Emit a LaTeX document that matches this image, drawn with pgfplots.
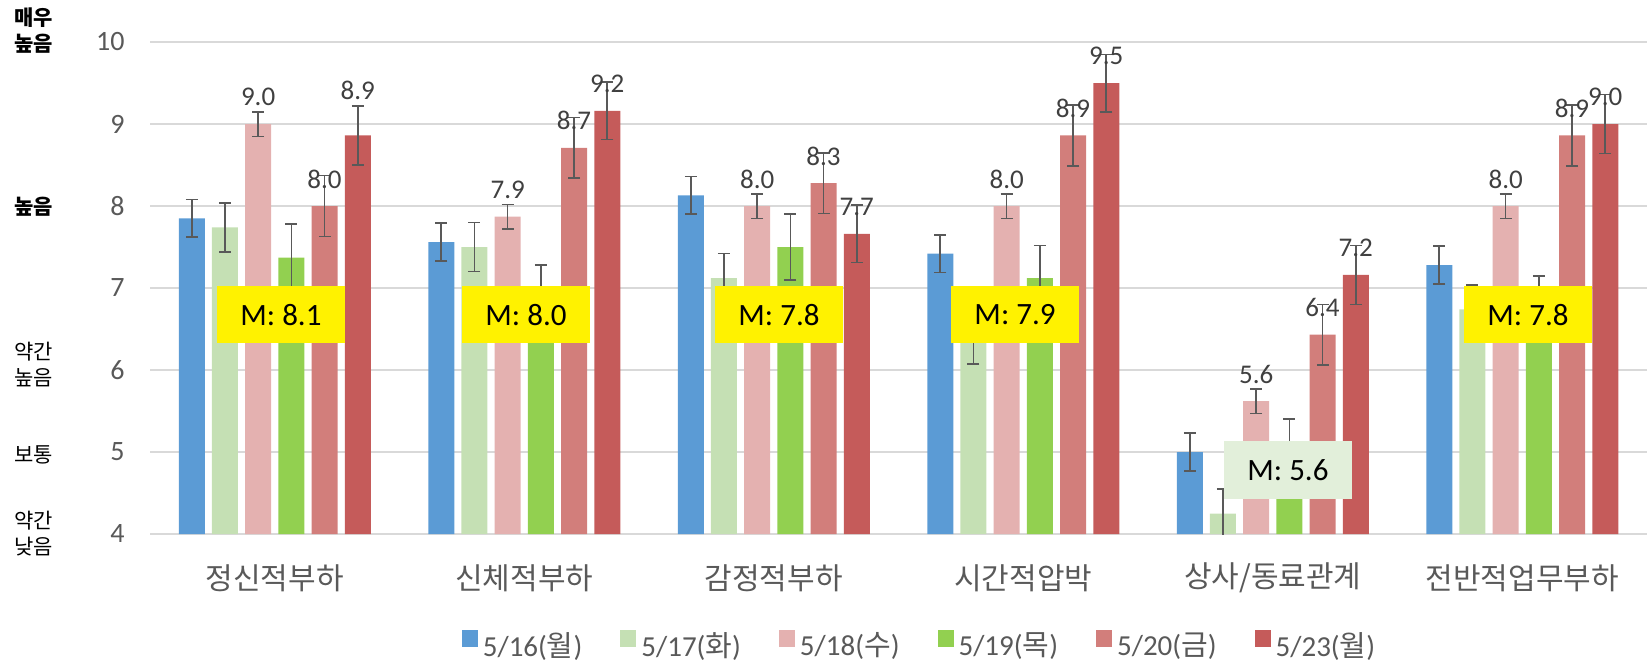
\documentclass[border=0pt]{standalone}
\usepackage{fontspec}
\setmainfont{Carlito}
\newfontfamily\kr{Noto Sans CJK KR}
\usepackage{pgfplots}
\pgfplotsset{compat=1.18}
\usepackage{pgfplotstable}
\definecolor{cA}{HTML}{5B9BD5}
\definecolor{cB}{HTML}{C5E0B4}
\definecolor{cC}{HTML}{E4B1B0}
\definecolor{cD}{HTML}{92D050}
\definecolor{cE}{HTML}{D27E7B}
\definecolor{cF}{HTML}{C55B5A}
\definecolor{tickgray}{HTML}{595959}
\definecolor{labgray}{HTML}{404040}
\definecolor{errgray}{HTML}{595959}
\definecolor{gridgray}{HTML}{D9D9D9}
\definecolor{boxgreen}{HTML}{E2EFDA}

\pgfplotstableread{
x y e
0 7.85 0.23
1 7.56 0.23
2 8.13 0.23
3 7.42 0.23
4 5.00 0.23
5 7.28 0.23
}\tblA
\pgfplotstableread{
x y e
0 7.74 0.30
1 7.50 0.30
2 7.12 0.30
3 6.37 0.30
4 4.25 0.30
5 6.74 0.30
}\tblB
\pgfplotstableread{
x y e
0 9.00 0.15
1 7.87 0.15
2 8.00 0.15
3 8.00 0.15
4 5.62 0.15
5 8.00 0.15
}\tblC
\pgfplotstableread{
x y e
0 7.37 0.41
1 6.95 0.33
2 7.50 0.40
3 7.12 0.40
4 5.00 0.40
5 6.75 0.40
}\tblD
\pgfplotstableread{
x y e
0 8.00 0.37
1 8.71 0.37
2 8.28 0.37
3 8.86 0.37
4 6.43 0.37
5 8.86 0.37
}\tblE
\pgfplotstableread{
x y e off
0 8.86 0.36 22.5
1 9.16 0.35 13.5
2 7.66 0.35 13.5
3 9.50 0.35 13.5
4 7.16 0.36 13.5
5 9.00 0.36 13.5
}\tblF

\pgfplotsset{
  lab/.style={
    nodes near coords={\pgfmathprintnumber[fixed,fixed zerofill,precision=1]{\pgfplotspointmeta}},
    every node near coord/.append style={anchor=center, yshift=13.5pt, inner sep=0pt,
      font=\fontsize{13.5}{13.5}\selectfont, text=labgray},
  },
}

\begin{document}
\begin{tikzpicture}
\useasboundingbox (0,0) rectangle (824pt,332pt);
\begin{axis}[
  at={(75pt,65pt)}, anchor=south west,
  scale only axis, width=748.5pt, height=246pt,
  ymin=4, ymax=10, xmin=-0.5, xmax=5.5,
  ybar=3.6pt, bar width=13pt,
  ytick={4,...,10}, xtick={0,...,5},
  xticklabels={정신적부하,신체적부하,감정적부하,시간적압박,상사/동료관계,전반적업무부하},
  major tick length=0pt,
  axis line style={draw=none},
  ymajorgrids, grid style={color=gridgray, line width=0.75pt},
  /pgf/number format/assume math mode=true,
  yticklabel style={anchor=east, inner sep=0pt, xshift=-12.5pt,
    font=\fontsize{14}{14}\selectfont, text=tickgray},
  xticklabel style={anchor=center, inner sep=0pt, yshift=-22pt,
    font=\kr\fontsize{15}{15}\selectfont, text=tickgray},
  error bars/y dir=both, error bars/y explicit,
  error bars/error bar style={color=errgray, line width=0.8pt},
  error bars/error mark options={color=errgray, line width=0.8pt, mark size=3pt, rotate=90},
  legend columns=6,
  legend style={draw=none, fill=none, at={(axis description cs:0.5134,-0.2245)}, anchor=center,
    font=\fontsize{14.5}{16}\selectfont, text=tickgray, inner sep=0pt,
    nodes={inner sep=0pt},
    /tikz/every odd column/.append style={column sep=2.5pt},
    /tikz/every even column/.append style={column sep=19pt}},
  legend image code/.code={\fill[#1] (0pt,-0.5pt) rectangle (8pt,8pt);},
]
\addplot[fill=cA, draw=none] table[x=x, y=y, y error=e]{\tblA};
\addlegendentry{5/16({\kr 월})}
\addplot[fill=cB, draw=none] table[x=x, y=y, y error=e]{\tblB};
\addlegendentry{5/17({\kr 화})}
\addplot[fill=cC, draw=none, lab] table[x=x, y=y, y error=e]{\tblC};
\addlegendentry{5/18({\kr 수})}
\addplot[fill=cD, draw=none] table[x=x, y=y, y error=e]{\tblD};
\addlegendentry{5/19({\kr 목})}
\addplot[fill=cE, draw=none, lab] table[x=x, y=y, y error=e]{\tblE};
\addlegendentry{5/20({\kr 금})}
\addplot[fill=cF, draw=none, lab,
  visualization depends on={\thisrow{off} \as \laboff},
  every node near coord/.append style={yshift=\laboff pt-13.5pt}] table[x=x, y=y, y error=e]{\tblF};
\addlegendentry{5/23({\kr 월})}

\tikzset{mbox/.style={fill=yellow, minimum width=64pt, minimum height=28.75pt, inner sep=0pt,
  font=\fontsize{15.5}{15.5}\selectfont, text=black}}
\node[mbox] at (axis cs:0.025,6.674) {M: 8.1};
\node[mbox] at (axis cs:1.007,6.674) {M: 8.0};
\node[mbox] at (axis cs:2.021,6.674) {M: 7.8};
\node[mbox] at (axis cs:2.967,6.674) {M: 7.9};
\node[mbox, fill=boxgreen] at (axis cs:4.061,4.78) {M: 5.6};
\node[mbox] at (axis cs:5.023,6.674) {M: 7.8};
\end{axis}
\begin{scope}[every node/.style={anchor=west, align=left, inner sep=0pt,
   font=\kr\fontsize{10.5}{13}\selectfont, text=black}]
\node at (7pt,316.5pt) {\bfseries 매우\\\bfseries 높음};
\node at (7pt,228.5pt) {\bfseries 높음};
\node at (7pt,149.5pt) {약간\\높음};
\node at (7pt,104.5pt) {보통};
\node at (7pt,65pt) {약간\\낮음};
\end{scope}
\end{tikzpicture}
\end{document}
